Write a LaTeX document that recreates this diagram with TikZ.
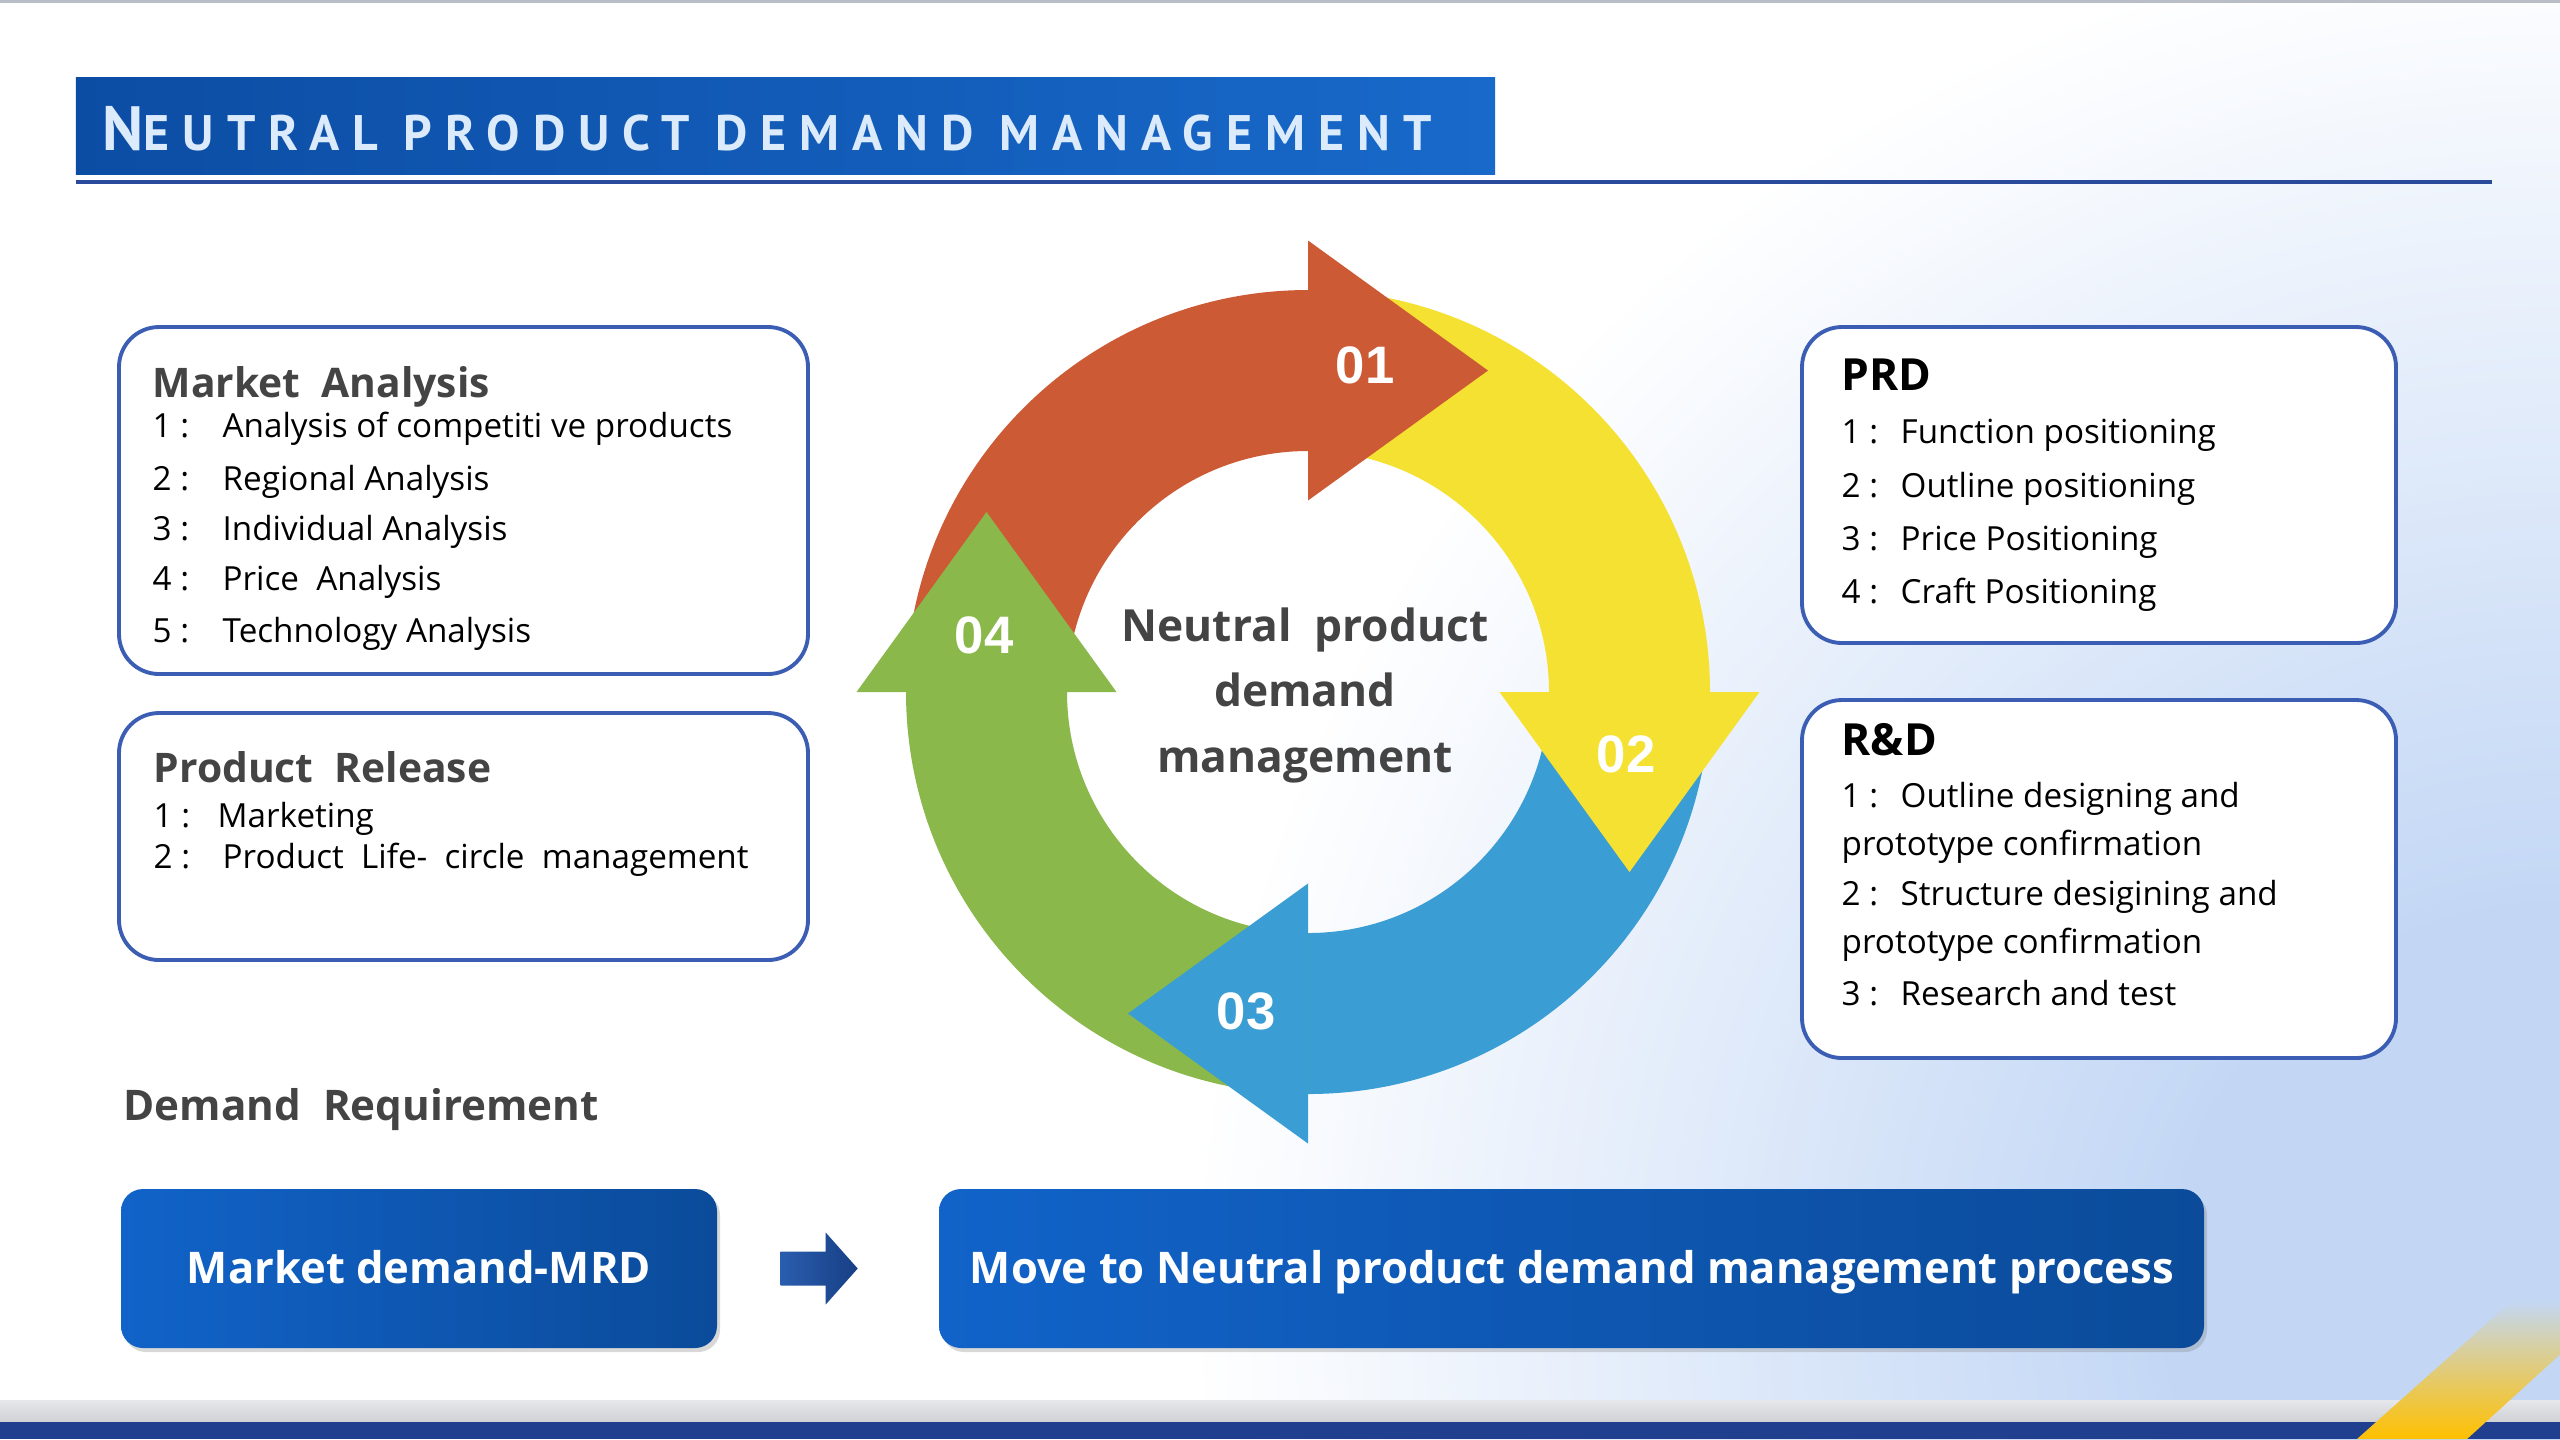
\documentclass[tikz,border=0pt]{standalone}
\usepackage{fontspec}
\setmainfont{Open Sans}
\newfontfamily\titlefont[LetterSpace=26]{PT Sans}
\newfontfamily\numfont{Liberation Sans}
\usetikzlibrary{calc,shadows}
\definecolor{glowc}{HTML}{C3D7F5}
\definecolor{barL}{HTML}{0C4DA4}
\definecolor{barR}{HTML}{1869CA}
\definecolor{lineblue}{HTML}{2A4A9C}
\definecolor{boxborder}{HTML}{3B5DB3}
\definecolor{headgray}{HTML}{444444}
\definecolor{cred}{HTML}{CC5A35}
\definecolor{cyellow}{HTML}{F5E132}
\definecolor{cblue}{HTML}{3A9DD3}
\definecolor{cgreen}{HTML}{8BB84A}
\definecolor{btnL}{HTML}{1163C9}
\definecolor{btnR}{HTML}{0B4B9A}
\definecolor{arrowL}{HTML}{2A5DAE}
\definecolor{arrowR}{HTML}{173F85}
\definecolor{darkband}{HTML}{213F8F}
\definecolor{graybandT}{HTML}{E6E7EA}
\definecolor{graybandB}{HTML}{CFD1D5}
\definecolor{stripey}{HTML}{FFC000}
\definecolor{stripeg}{HTML}{A5A9A8}
\definecolor{titletxt}{HTML}{DCEBFB}
\definecolor{topgray}{HTML}{B9BDC6}
\pgfdeclareradialshading{bgglow}{\pgfpoint{0bp}{0bp}}{color(0bp)=(glowc); color(7bp)=(glowc); color(24.5bp)=(white); color(50bp)=(white)}
\begin{document}
\begin{tikzpicture}[
  infobox/.style={draw=boxborder, line width=1.1pt, rounded corners=0.4cm, fill=white, inner sep=0pt},
  bluebtn/.style={rounded corners=0.22cm, left color=btnL, right color=btnR, inner sep=0pt,
    drop shadow={opacity=0.3, shadow xshift=0.03cm, shadow yshift=-0.04cm}},
  headtxt/.style={anchor=base west, inner sep=0pt, font=\fontsize{11.6}{13}\selectfont\bfseries, text=headgray},
  blackhead/.style={anchor=base west, inner sep=0pt, font=\fontsize{12.6}{14}\selectfont\bfseries, text=black},
  itemtxt/.style={anchor=base west, inner sep=0pt, font=\fontsize{9.45}{11}\selectfont, text=black},
  numtxt/.style={anchor=base, inner sep=0pt, font=\numfont\fontsize{15}{17}\selectfont\bfseries, text=white},
  centertxt/.style={anchor=base, inner sep=0pt, font=\fontsize{12.6}{15}\selectfont\bfseries, text=headgray},
  btntxt/.style={anchor=base, inner sep=0pt, font=\fontsize{12.4}{14}\selectfont\bfseries, text=white},
]
\useasboundingbox (0,0) rectangle (25.6,-14.39);
\fill[white] (0,0) rectangle (25.6,-14.39);
\begin{scope}
  \clip (0,0) rectangle (25.6,-14.39);
  \shade[shading=bgglow] (25.6,-13.0) circle[radius=14];
\end{scope}
\fill[topgray] (0,0) rectangle (25.6,-0.03);

% title
\node[left color=barL, right color=barR, minimum width=14.19cm, minimum height=0.97cm, inner sep=0pt] (bar) at (7.855,-1.255) {};
\node[anchor=base west, inner sep=0pt, text=titletxt] (titletext) at (1.02,-1.50)
  {\titlefont\bfseries\fontsize{17.8}{20}\selectfont N\fontsize{14.2}{16}\selectfont EUTRAL PRODUCT DEMAND MANAGEMENT};
\fill[lineblue] (0.76,-1.80) rectangle (24.92,-1.84);

% left boxes
\node[infobox, minimum width=6.89cm, minimum height=3.47cm] (ma) at (4.635,-5.005) {};
\node[headtxt] (mah) at (1.52,-3.97) {Market\ \ Analysis};
\node[itemtxt] (ma1) at (1.52,-4.37) {\makebox[0.70cm][l]{1 :}Analysis of competiti ve products};
\node[itemtxt] (ma2) at (1.52,-4.90) {\makebox[0.70cm][l]{2 :}Regional Analysis};
\node[itemtxt] (ma3) at (1.52,-5.40) {\makebox[0.70cm][l]{3 :}Individual Analysis};
\node[itemtxt] (ma4) at (1.52,-5.90) {\makebox[0.70cm][l]{4 :}Price\ \ Analysis};
\node[itemtxt] (ma5) at (1.52,-6.42) {\makebox[0.70cm][l]{5 :}Technology Analysis};

\node[infobox, minimum width=6.89cm, minimum height=2.47cm] (pr) at (4.635,-8.365) {};
\node[headtxt] (prh) at (1.53,-7.82) {Product\ \ Release};
\node[itemtxt] (pr1) at (1.53,-8.27) {\makebox[0.64cm][l]{1 :}Marketing};
\node[itemtxt] (pr2) at (1.53,-8.68) {\makebox[0.69cm][l]{2 :}Product\ \ Life-\ \ circle\ \ management};

% right boxes
\node[infobox, minimum width=5.94cm, minimum height=3.16cm] (prd) at (20.99,-4.85) {};
\node[blackhead] (prdh) at (18.41,-3.90) {PRD};
\node[itemtxt] (prd1) at (18.41,-4.43) {\makebox[0.59cm][l]{1 :}Function positioning};
\node[itemtxt] (prd2) at (18.41,-4.97) {\makebox[0.59cm][l]{2 :}Outline positioning};
\node[itemtxt] (prd3) at (18.41,-5.50) {\makebox[0.59cm][l]{3 :}Price Positioning};
\node[itemtxt] (prd4) at (18.41,-6.03) {\makebox[0.59cm][l]{4 :}Craft Positioning};

\node[infobox, minimum width=5.94cm, minimum height=3.58cm] (rd) at (20.99,-8.79) {};
\node[blackhead] (rdh) at (18.41,-7.55) {R\&D};
\node[itemtxt] (rd1) at (18.41,-8.07) {\makebox[0.59cm][l]{1 :}Outline designing and};
\node[itemtxt] (rd2) at (18.41,-8.55) {prototype confirmation};
\node[itemtxt] (rd3) at (18.41,-9.05) {\makebox[0.59cm][l]{2 :}Structure desigining and};
\node[itemtxt] (rd4) at (18.41,-9.53) {prototype confirmation};
\node[itemtxt] (rd5) at (18.41,-10.05) {\makebox[0.59cm][l]{3 :}Research and test};

% cycle
\begin{scope}[shift={(13.08,-6.92)}]
  \fill[cred] (180:4.02) arc[start angle=180,end angle=90,radius=4.02] -- (90:2.41) arc[start angle=90,end angle=180,radius=2.41] -- cycle;
  \fill[cyellow] (90:4.02) arc[start angle=90,end angle=0,radius=4.02] -- (0:2.41) arc[start angle=0,end angle=90,radius=2.41] -- cycle;
  \fill[cblue] (0:4.02) arc[start angle=0,end angle=-90,radius=4.02] -- (-90:2.41) arc[start angle=-90,end angle=0,radius=2.41] -- cycle;
  \fill[cgreen] (270:4.02) arc[start angle=270,end angle=180,radius=4.02] -- (180:2.41) arc[start angle=180,end angle=270,radius=2.41] -- cycle;
  \fill[cred] (0,1.915) -- (0,4.515) -- (1.80,3.215) -- cycle;
  \fill[cyellow] (1.915,0) -- (4.515,0) -- (3.215,-1.80) -- cycle;
  \fill[cblue] (0,-1.915) -- (0,-4.515) -- (-1.80,-3.215) -- cycle;
  \fill[cgreen] (-1.915,0) -- (-4.515,0) -- (-3.215,1.80) -- cycle;
\end{scope}
\node[numtxt] (n1) at (13.65,-3.83) {01};
\node[numtxt] (n2) at (16.26,-7.72) {02};
\node[numtxt] (n3) at (12.46,-10.29) {03};
\node[numtxt] (n4) at (9.84,-6.53) {04};
\node[centertxt] (c1) at (13.05,-6.41) {Neutral\ \ product};
\node[centertxt] (c2) at (13.05,-7.06) {demand};
\node[centertxt] (c3) at (13.05,-7.72) {management};

% bottom
\node[anchor=base west, inner sep=0pt, font=\fontsize{12}{14}\selectfont\bfseries, text=headgray] (dr) at (1.23,-11.20) {Demand\ \ Requirement};
\node[bluebtn, minimum width=5.96cm, minimum height=1.59cm] (mrd) at (4.19,-12.685) {};
\node[bluebtn, minimum width=12.65cm, minimum height=1.59cm] (proc) at (15.715,-12.685) {};
\node[btntxt] (mrdt) at (4.19,-12.83) {Market demand-MRD};
\node[btntxt] (proct) at (15.72,-12.83) {Move to Neutral product demand management process};
\shade[left color=arrowL, right color=arrowR]
  ($(mrd.east)+(0.63,0.17)$) -- ($(mrd.east)+(1.08,0.17)$) -- ($(mrd.east)+(1.08,0.36)$) --
  ($(mrd.east)+(1.40,0)$) -- ($(mrd.east)+(1.08,-0.36)$) -- ($(mrd.east)+(1.08,-0.17)$) --
  ($(mrd.east)+(0.63,-0.17)$) -- cycle;

% bottom bands
\shade[top color=graybandT, bottom color=graybandB] (0,-14.00) rectangle (25.6,-14.22);
\fill[darkband] (0,-14.22) rectangle (25.6,-14.39);
\begin{scope}
  \clip (0,0) rectangle (25.6,-14.39);
  \shade[top color=glowc, middle color=stripeg, bottom color=stripey]
    (23.57,-14.39) -- (25.13,-13.00) -- (26.2,-13.00) -- (24.67,-14.39) -- cycle;
\end{scope}
\end{tikzpicture}
\end{document}
